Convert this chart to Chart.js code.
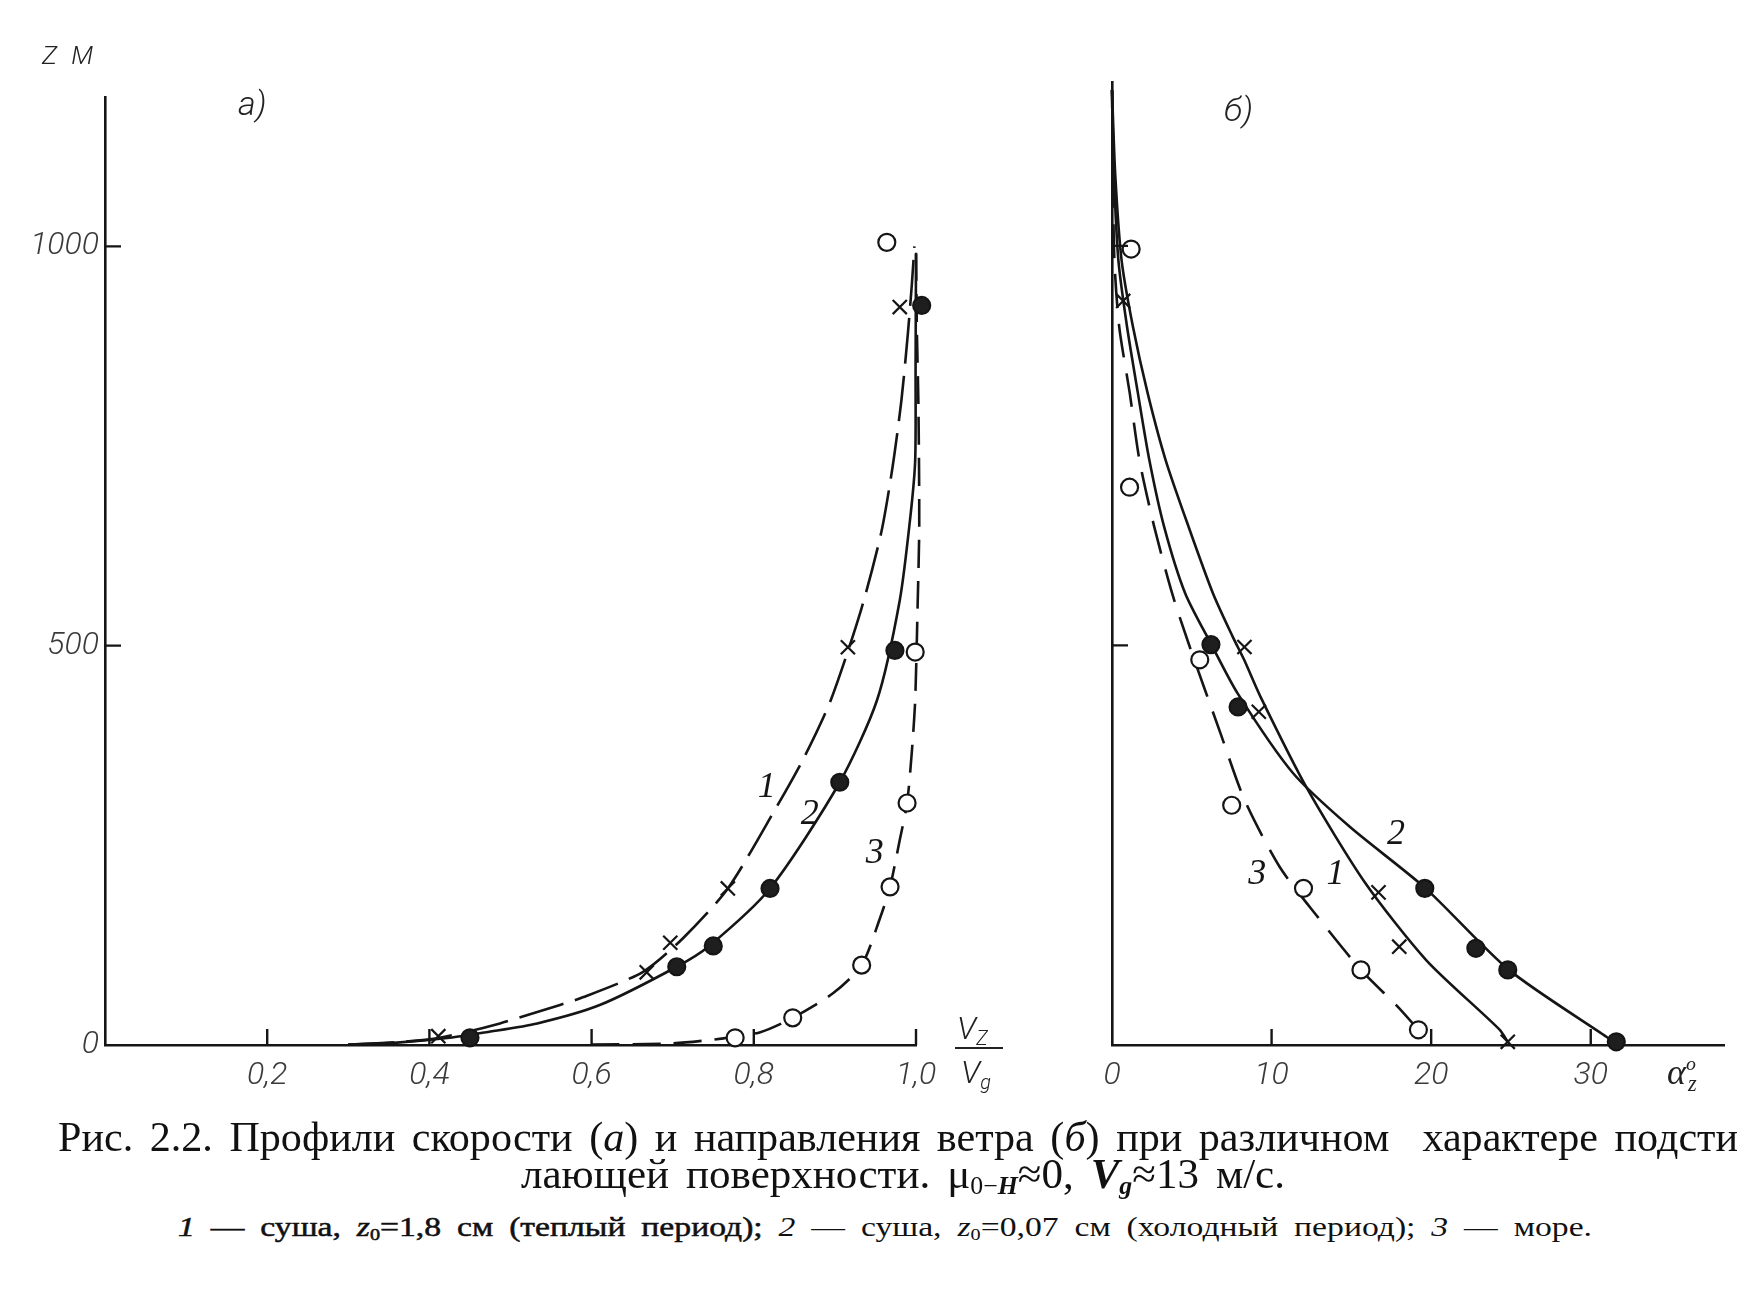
<!DOCTYPE html>
<html lang="ru">
<head>
<meta charset="utf-8">
<title>Рис. 2.2</title>
<script src="https://cdn.jsdelivr.net/npm/chart.js@4.4.1/dist/chart.umd.min.js"></script>
<style>
  html, body { margin: 0; padding: 0; background: #fff; }
  #page { position: relative; width: 1737px; height: 1310px; overflow: hidden; background: #fff; }
  canvas { position: absolute; top: 0; }
  #chartA { left: 0; }
  #chartB { left: 1000px; }
  .lbl { position: absolute; font-family: Roboto, "Liberation Sans", sans-serif; font-style: italic; font-weight: 300;
         color: #222; white-space: nowrap; line-height: 1; }
  .lbl sub { font-size: 0.62em; vertical-align: -0.3em; }
  .frac { position: absolute; background: #222; height: 2px; }
  .cap { position: absolute; font-family: "Liberation Serif", "DejaVu Serif", serif; color: #111;
         white-space: pre; line-height: 1; transform-origin: 0 0; }
  .cap sub { font-size: 0.6em; vertical-align: -0.25em; }
  .cap .heavy { -webkit-text-stroke: 0.5px #111; }
</style>
</head>
<body>
<div id="page">
  <canvas id="chartA" width="1000" height="1120"></canvas>
  <canvas id="chartB" width="737" height="1120"></canvas>

  <div class="lbl" style="left:42px; top:42px; font-size:26px; word-spacing:8px;">Z М</div>
  <div class="lbl" style="left:238px; top:86px; font-size:34px;">а)</div>
  <div class="lbl" style="left:1224px; top:92px; font-size:34px;">б)</div>

  <div class="lbl" style="left:957px; top:1012px; font-size:32px;">V<sub>Z</sub></div>
  <div class="frac" style="left:955px; top:1047px; width:48px;"></div>
  <div class="lbl" style="left:961px; top:1056px; font-size:32px;">V<sub>g</sub></div>
  <div class="lbl" style="left:1667px; top:1054px; font-size:36px; font-family:'Liberation Serif', serif; font-weight:normal;">α<sup style="font-size:0.55em; vertical-align:0.7em;">о</sup><sub style="margin-left:-0.35em;">z</sub></div>

  <div class="cap" data-width="1680" style="left:58px; top:1116px; font-size:42px;">Рис. 2.2. Профили скорости (<i>а</i>) и направления ветра (<i>б</i>) при различном  характере подсти</div>
  <div class="cap" data-width="764" style="left:521px; top:1153px; font-size:42px;">лающей поверхности. μ<sub>0−<i><b>H</b></i></sub>≈0, <i><b>V</b></i><sub><i><b>g</b></i></sub>≈13 м/с.</div>
  <div class="cap" data-width="1414" style="left:178px; top:1214px; font-size:27px;"><span class="heavy"><i>1</i> — суша, <i>z</i><sub>0</sub>=1,8 см (теплый период);</span> <i>2</i> — суша, <i>z</i><sub>0</sub>=0,07 см (холодный период); <i>3</i> — море.</div>
</div>

<script>
// ---- а) wind speed, Vz/Vg, against height z (m) ----
// measured points
const heightWarmA = [11, 91, 128, 196, 498, 924];
const speedWarm   = [0.411, 0.668, 0.697, 0.768, 0.916, 0.980];
const heightColdA = [9, 98, 124, 196, 329, 494, 926];
const speedCold   = [0.450, 0.705, 0.750, 0.820, 0.906, 0.974, 1.007];
const heightSeaA  = [9, 34, 100, 198, 303, 492, 1005];
const speedSea    = [0.777, 0.848, 0.933, 0.968, 0.989, 0.999, 0.964];

// drawn curves
const curveWarmAz = [0.5, 3.5, 7, 15, 27, 41, 60, 92, 134, 196, 298, 360, 432, 544, 641, 723, 807, 891, 954, 1000];
const curveWarmAv = [0.30, 0.36, 0.40, 0.44, 0.487, 0.532, 0.590, 0.664, 0.713, 0.768, 0.828, 0.862, 0.895, 0.932, 0.957, 0.971, 0.982, 0.990, 0.995, 0.998];
const curveColdAz = [0.5, 3, 9, 16, 27, 50, 98, 124, 196, 329, 432, 557, 661, 732, 850, 990];
const curveColdAv = [0.30, 0.36, 0.425, 0.470, 0.533, 0.610, 0.705, 0.745, 0.820, 0.906, 0.952, 0.980, 0.993, 0.999, 0.9995, 1.0];
const curveSeaAz  = [0.5, 2, 8, 16, 34, 65, 100, 160, 198, 257, 303, 369, 432, 550, 650, 800, 900, 1000];
const curveSeaAv  = [0.60, 0.70, 0.76, 0.808, 0.848, 0.898, 0.933, 0.956, 0.968, 0.980, 0.989, 0.995, 0.999, 1.002, 1.004, 1.003, 1.001, 1.0];

const speedTicks = [0.2, 0.4, 0.6, 0.8, 1.0];
const heightTicksA = [0, 500, 1000];

// ---- б) wind turning angle, degrees ----
const heightWarmB = [931, 498, 417, 191, 123, 4];
const angleWarm   = [0.7, 8.3, 9.2, 16.7, 18.0, 24.8];
const heightColdB = [929, 501, 423, 196, 121, 94, 4];
const angleCold   = [-1.2, 6.2, 7.9, 19.6, 22.8, 24.8, 31.6];
const heightSeaB  = [996, 698, 482, 300, 196, 94, 19];
const angleSea    = [1.2, 1.1, 5.5, 7.5, 12.0, 15.6, 19.2];

const curveWarmBa = [24.8, 24.3, 19.7, 15.86, 12.17, 9.3, 8.28, 7.56, 6.33, 4.79, 3.36, 2.23, 1.31, 0.6, 0.2, 0];
const curveWarmBz = [4, 19, 106, 203, 323, 436, 482, 511, 565, 649, 732, 816, 899, 982, 1090, 1195];
const curveColdBa = [31.6, 31.0, 24.87, 19.65, 14.9, 11.35, 7.87, 6.23, 4.59, 3.26, 2.34, 1.62, 0.94, 0.4, 0.12, 0];
const curveColdBz = [2, 10, 94, 196, 273, 340, 440, 501, 565, 649, 732, 816, 899, 982, 1090, 1195];
const curveSeaBa  = [19.2, 17.9, 15.6, 12.9, 10.5, 8.3, 6.8, 4.79, 3.77, 2.64, 1.72, 1.11, 0.45, 0.15, 0.05, 0];
const curveSeaBz  = [19, 48, 94, 160, 223, 307, 390, 503, 565, 649, 732, 816, 899, 982, 1090, 1195];

const angleTicks = [0, 10, 20, 30];
const heightTicksB = [500, 1000];

const curveNames = ['1', '2', '3'];

// ------------------------------------------------------------
const INK = '#151515';
const tickFont = { family: 'Roboto, "Liberation Sans", sans-serif', style: 'italic', weight: 300, size: 32 };

const pts = (xs, ys) => xs.map((v, i) => ({ x: v, y: ys[i] }));

function markers(data, kind) {
    const base = { data, showLine: false, order: 0, clip: false,
                   pointBorderColor: INK, pointBorderWidth: 2.2, pointHoverRadius: 0 };
    if (kind === 'cross') return { ...base, pointStyle: 'crossRot', pointRadius: 10 };
    if (kind === 'filled') return { ...base, pointStyle: 'circle', pointRadius: 8.5, pointBackgroundColor: '#1e1e1e' };
    return { ...base, pointStyle: 'circle', pointRadius: 8.5, pointBackgroundColor: '#fff' };
}

function curve(data, dash) {
    return { data, showLine: true, order: 1, clip: false, pointRadius: 0,
             borderColor: INK, borderWidth: 2.6, borderDash: dash, tension: 0.25 };
}

// inward tick marks and curve numbers
const axisMarks = {
    id: 'axisMarks',
    afterDatasetsDraw(chart, args, opts) {
        const { ctx, chartArea, scales: { x, y } } = chart;
        ctx.save();
        ctx.strokeStyle = INK;
        ctx.lineWidth = 2.4;
        ctx.beginPath();
        opts.xTicks.forEach(v => {
            const px = x.getPixelForValue(v);
            ctx.moveTo(px, chartArea.bottom);
            ctx.lineTo(px, chartArea.bottom - opts.len);
        });
        opts.yTicks.forEach(v => {
            const py = y.getPixelForValue(v);
            ctx.moveTo(chartArea.left, py);
            ctx.lineTo(chartArea.left + opts.len, py);
        });
        ctx.stroke();

        ctx.fillStyle = INK;
        ctx.font = 'italic 36px "Liberation Serif", serif';
        ctx.textAlign = 'center';
        ctx.textBaseline = 'middle';
        opts.names.forEach((t, i) => {
            ctx.fillText(t, x.getPixelForValue(opts.nameX[i]), y.getPixelForValue(opts.nameY[i]));
        });
        ctx.restore();
    }
};

function makeChart(id, cfg) {
    return new Chart(document.getElementById(id), {
        type: 'scatter',
        data: { datasets: cfg.datasets },
        options: {
            responsive: false,
            animation: false,
            devicePixelRatio: 1,
            layout: { padding: cfg.padding },
            plugins: { legend: { display: false }, tooltip: { enabled: false }, axisMarks: cfg.marks },
            scales: {
                x: {
                    type: 'linear', min: cfg.xMin, max: cfg.xMax,
                    afterBuildTicks: s => { s.ticks = cfg.xTickVals.map(v => ({ value: v })); },
                    afterFit: s => { s.height = 75; },
                    grid: { drawOnChartArea: false, drawTicks: false },
                    border: { color: INK, width: 2.6 },
                    ticks: { font: tickFont, color: '#3a3a3a', padding: 12, maxRotation: 0, autoSkip: false,
                             callback: cfg.xLabel }
                },
                y: {
                    type: 'linear', min: 0, max: cfg.yMax,
                    afterBuildTicks: s => { s.ticks = cfg.yTickVals.map(v => ({ value: v })); },
                    afterFit: s => { s.width = cfg.yWidth; },
                    grid: { drawOnChartArea: false, drawTicks: false },
                    border: { color: INK, width: 2.6 },
                    ticks: { display: cfg.yLabels, font: tickFont, color: '#3a3a3a', padding: 6, autoSkip: false,
                             callback: v => String(v) }
                }
            }
        },
        plugins: [axisMarks]
    });
}

makeChart('chartA', {
    padding: { left: 0, right: 84, top: 97, bottom: 0 },
    xMin: 0, xMax: 1.0, yMax: 1187, yWidth: 105, yLabels: true,
    xTickVals: speedTicks, yTickVals: heightTicksA,
    xLabel: v => v.toFixed(1).replace('.', ','),
    marks: { len: 16, xTicks: speedTicks, yTicks: [500, 1000], names: curveNames,
             nameX: [0.816, 0.869, 0.949], nameY: [323, 288, 240] },
    datasets: [
        markers(pts(speedWarm, heightWarmA), 'cross'),
        markers(pts(speedCold, heightColdA), 'filled'),
        markers(pts(speedSea, heightSeaA), 'open'),
        curve(pts(curveWarmAv, curveWarmAz), [46, 12]),
        curve(pts(curveColdAv, curveColdAz), []),
        curve(pts(curveSeaAv, curveSeaAz), [28, 13])
    ]
});

makeChart('chartB', {
    padding: { left: 0, right: 0, top: 82, bottom: 0 },
    xMin: 0, xMax: 38.4, yMax: 1205, yWidth: 112, yLabels: false,
    xTickVals: angleTicks, yTickVals: heightTicksB,
    xLabel: v => String(v),
    marks: { len: 16, xTicks: angleTicks.slice(1), yTicks: heightTicksB, names: curveNames,
             nameX: [14.0, 17.8, 9.1], nameY: [213, 263, 213] },
    datasets: [
        markers(pts(angleWarm, heightWarmB), 'cross'),
        markers(pts(angleCold, heightColdB), 'filled'),
        markers(pts(angleSea, heightSeaB), 'open'),
        curve(pts(curveWarmBa, curveWarmBz), []),
        curve(pts(curveColdBa, curveColdBz), []),
        curve(pts(curveSeaBa, curveSeaBz), [34, 16])
    ]
});

// squeeze caption lines to the width they take in the print
document.querySelectorAll('.cap').forEach(el => {
    el.style.wordSpacing = '6px';
    const natural = el.getBoundingClientRect().width;
    el.style.transform = `scaleX(${parseFloat(el.dataset.width) / natural})`;
});
</script>
</body>
</html>
